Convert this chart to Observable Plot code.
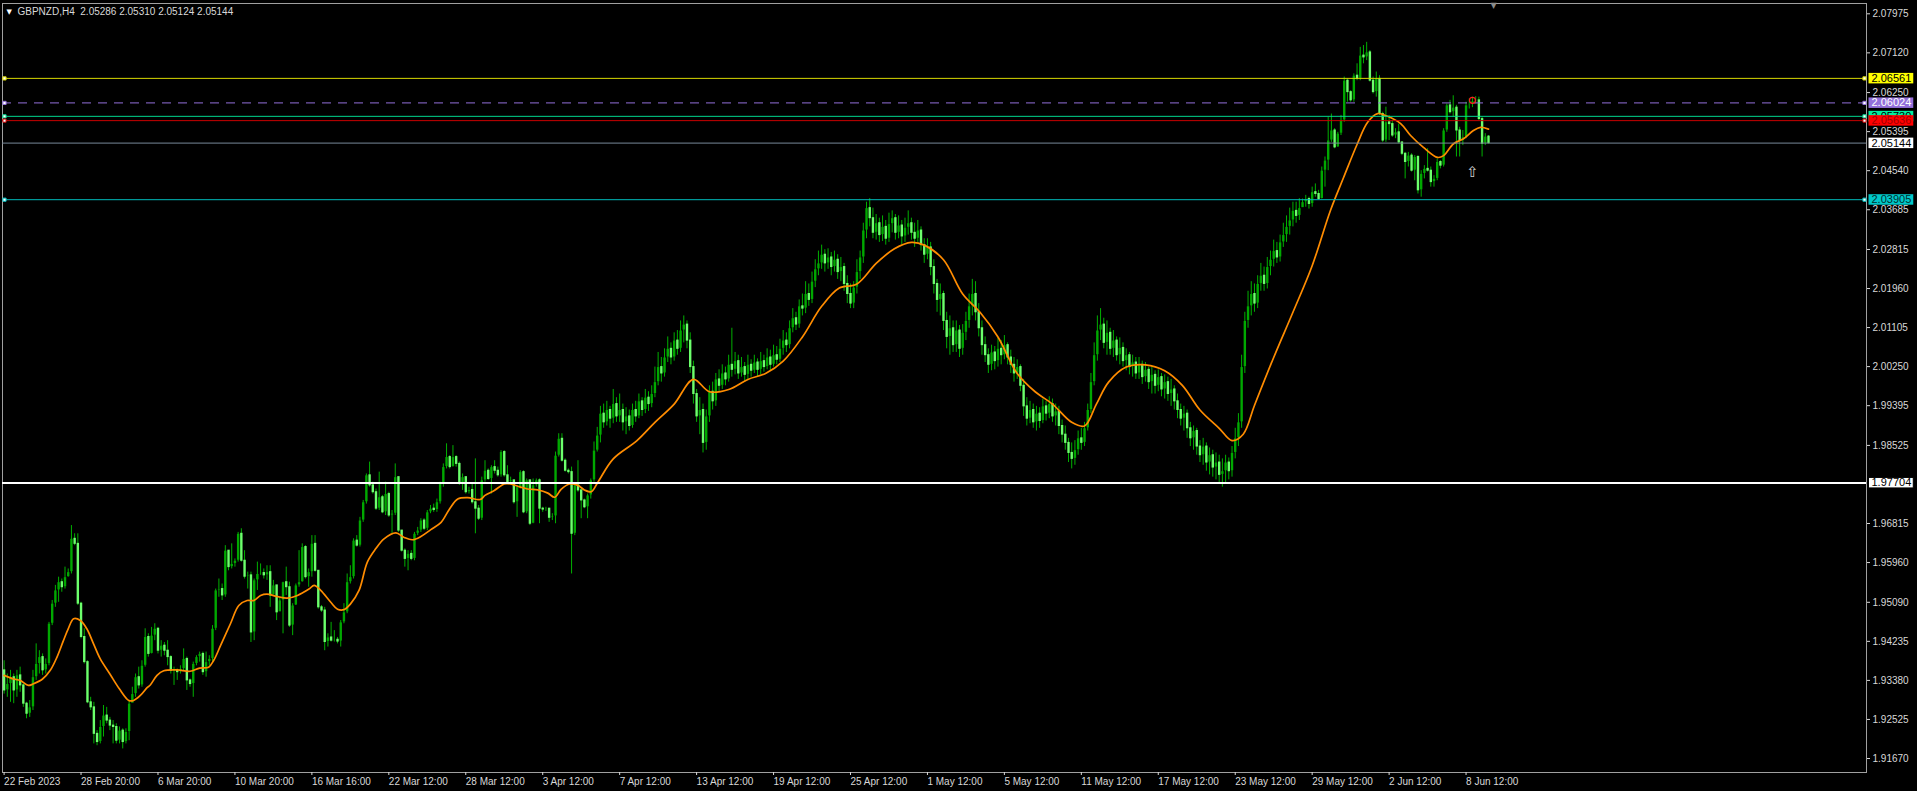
<!DOCTYPE html>
<html><head><meta charset="utf-8">
<script src="https://cdn.jsdelivr.net/npm/d3@7"></script>
<script src="https://cdn.jsdelivr.net/npm/@observablehq/plot@0.6"></script>
<style>html,body{margin:0;padding:0;background:#000;overflow:hidden}</style>
</head><body>
<div id="chart"></div>
<script>
// ---------- data ----------
const symbolLabel = "GBPNZD,H4";
const lastQuote = [2.05286, 2.05310, 2.05124, 2.05144]; // O H L C of last bar
const firstOpen = 1.9360;

const closesA = [1.9316,1.9330,1.9345,1.9316,1.9349,1.9327,1.9287,1.9265,1.9279,1.9345,1.9374,1.9389,1.9360,1.9374,1.9462,1.9506,1.9535,1.9553,1.9542,1.9564,1.9575,1.9648,1.9637,1.9506,1.9433,1.9378,1.9290,1.9279,1.9221,1.9203,1.9236,1.9261,1.9250,1.9239,1.9236,1.9206,1.9228,1.9203,1.9225,1.9287,1.9308,1.9345,1.9327,1.9370,1.9433,1.9396,1.9436,1.9451,1.9403,1.9414,1.9403,1.9389,1.9359,1.9359,1.9356,1.9363,1.9385,1.9338,1.9330,1.9374,1.9389,1.9396,1.9356,1.9378,1.9385,1.9451,1.9535,1.9538,1.9524,1.9622,1.9586,1.9593,1.9600,1.9659,1.9600,1.9565,1.9568,1.9443,1.9557,1.9571,1.9573,1.9568,1.9575,1.9524,1.9546,1.9487,1.9513,1.9553,1.9542,1.9458,1.9502,1.9546,1.9553,1.9630,1.9564,1.9575,1.9637,1.9578,1.9498,1.9491,1.9422,1.9432,1.9425,1.9427,1.9423,1.9465,1.9487,1.9553,1.9564,1.9644,1.9633,1.9688,1.9728,1.9787,1.9765,1.9750,1.9714,1.9739,1.9706,1.9746,1.9699,1.9703,1.9783,1.9666,1.9622,1.9604,1.9615,1.9604,1.9659,1.9666,1.9688,1.9670,1.9706,1.9714,1.9711,1.9728,1.9768,1.9805,1.9827,1.9805,1.9827,1.9812,1.9768,1.9783,1.9750,1.9755,1.9728,1.9714,1.9692,1.9776,1.9797,1.9779,1.9805,1.9797,1.9787,1.9838,1.9787,1.9772,1.9776,1.9728,1.9761,1.9794,1.9706,1.9776,1.9681,1.9765,1.9776,1.9714,1.9712,1.9714,1.9694,1.9697,1.9830,1.9867,1.9819,1.9797,1.9794,1.9659,1.9765,1.9754,1.9732,1.9717,1.9743,1.9776,1.9841,1.9874];
const highsA = [1.9381,1.9352,1.9360,1.9352,1.9360,1.9367,1.9330,1.9290,1.9294,1.9360,1.9418,1.9403,1.9396,1.9385,1.9465,1.9513,1.9546,1.9564,1.9560,1.9586,1.9582,1.9677,1.9659,1.9659,1.9509,1.9451,1.9381,1.9301,1.9290,1.9228,1.9250,1.9283,1.9279,1.9257,1.9250,1.9243,1.9236,1.9232,1.9232,1.9294,1.9323,1.9352,1.9367,1.9381,1.9451,1.9440,1.9454,1.9462,1.9454,1.9425,1.9421,1.9425,1.9392,1.9367,1.9363,1.9370,1.9407,1.9389,1.9341,1.9378,1.9392,1.9400,1.9400,1.9400,1.9392,1.9458,1.9538,1.9560,1.9549,1.9633,1.9622,1.9637,1.9604,1.9662,1.9670,1.9622,1.9575,1.9575,1.9560,1.9597,1.9593,1.9582,1.9589,1.9589,1.9557,1.9546,1.9520,1.9553,1.9586,1.9553,1.9506,1.9549,1.9622,1.9637,1.9633,1.9582,1.9655,1.9655,1.9578,1.9502,1.9498,1.9440,1.9465,1.9447,1.9432,1.9469,1.9506,1.9571,1.9589,1.9648,1.9655,1.9695,1.9732,1.9790,1.9816,1.9772,1.9757,1.9794,1.9743,1.9772,1.9750,1.9710,1.9812,1.9783,1.9666,1.9626,1.9622,1.9622,1.9662,1.9673,1.9692,1.9692,1.9710,1.9721,1.9724,1.9735,1.9772,1.9812,1.9856,1.9830,1.9852,1.9830,1.9816,1.9790,1.9783,1.9761,1.9768,1.9823,1.9721,1.9783,1.9819,1.9801,1.9808,1.9819,1.9805,1.9841,1.9841,1.9808,1.9783,1.9776,1.9765,1.9797,1.9797,1.9779,1.9776,1.9779,1.9779,1.9779,1.9717,1.9717,1.9714,1.9703,1.9838,1.9878,1.9878,1.9823,1.9801,1.9805,1.9768,1.9819,1.9757,1.9735,1.9746,1.9779,1.9860,1.9892];
const lowsA = [1.9308,1.9301,1.9290,1.9287,1.9301,1.9312,1.9279,1.9254,1.9257,1.9272,1.9338,1.9352,1.9349,1.9352,1.9370,1.9458,1.9498,1.9509,1.9531,1.9538,1.9564,1.9571,1.9633,1.9502,1.9429,1.9374,1.9287,1.9272,1.9199,1.9195,1.9199,1.9214,1.9243,1.9228,1.9199,1.9199,1.9199,1.9188,1.9199,1.9206,1.9290,1.9301,1.9319,1.9323,1.9367,1.9389,1.9396,1.9425,1.9396,1.9389,1.9392,1.9370,1.9352,1.9327,1.9338,1.9352,1.9359,1.9316,1.9323,1.9301,1.9370,1.9378,1.9349,1.9345,1.9370,1.9378,1.9447,1.9520,1.9513,1.9520,1.9578,1.9582,1.9586,1.9597,1.9597,1.9560,1.9538,1.9421,1.9425,1.9535,1.9568,1.9560,1.9557,1.9498,1.9531,1.9469,1.9491,1.9440,1.9524,1.9454,1.9436,1.9502,1.9542,1.9553,1.9560,1.9542,1.9564,1.9575,1.9494,1.9487,1.9403,1.9411,1.9422,1.9422,1.9418,1.9411,1.9462,1.9484,1.9549,1.9560,1.9630,1.9630,1.9684,1.9724,1.9761,1.9746,1.9710,1.9710,1.9703,1.9699,1.9695,1.9659,1.9699,1.9662,1.9619,1.9586,1.9578,1.9600,1.9600,1.9655,1.9662,1.9666,1.9666,1.9703,1.9706,1.9706,1.9724,1.9761,1.9801,1.9801,1.9805,1.9805,1.9765,1.9754,1.9746,1.9746,1.9724,1.9659,1.9688,1.9688,1.9772,1.9776,1.9746,1.9790,1.9783,1.9783,1.9783,1.9768,1.9765,1.9724,1.9695,1.9757,1.9703,1.9703,1.9677,1.9681,1.9761,1.9681,1.9706,1.9708,1.9684,1.9688,1.9681,1.9827,1.9816,1.9794,1.9790,1.9571,1.9655,1.9750,1.9692,1.9714,1.9692,1.9735,1.9772,1.9838];

const closesB = [1.9922,1.9903,1.9930,1.9911,1.9943,1.9916,1.9930,1.9903,1.9916,1.9895,1.9930,1.9916,1.9949,1.9930,1.9957,1.9943,1.9965,1.9991,2.0024,2.0010,2.0045,2.0064,2.0045,2.0082,2.0064,2.0104,2.0117,2.0082,2.0024,1.9965,1.9916,1.9930,1.9858,1.9916,1.9970,1.9949,1.9997,1.9983,2.0010,1.9997,2.0029,2.0018,2.0037,2.0010,2.0024,2.0007,2.0029,2.0016,2.0034,2.0018,2.0037,2.0024,2.0045,2.0029,2.0050,2.0040,2.0064,2.0082,2.0072,2.0109,2.0131,2.0117,2.0157,2.0152,2.0184,2.0171,2.0211,2.0238,2.0251,2.0270,2.0251,2.0264,2.0243,2.0259,2.0232,2.0243,2.0206,2.0184,2.0163,2.0198,2.0232,2.0264,2.0323,2.0372,2.0350,2.0318,2.0339,2.0313,2.0331,2.0305,2.0337,2.0350,2.0318,2.0334,2.0310,2.0329,2.0339,2.0318,2.0305,2.0323,2.0291,2.0270,2.0286,2.0243,2.0206,2.0171,2.0184,2.0125,2.0090,2.0109,2.0072,2.0104,2.0064,2.0099,2.0125,2.0157,2.0184,2.0144,2.0109,2.0072,2.0050,2.0029,2.0056,2.0037,2.0064,2.0050,2.0072,2.0045,2.0029,2.0010,2.0024,1.9983,1.9938,1.9911,1.9930,1.9903,1.9922,1.9906,1.9938,1.9922,1.9943,1.9916,1.9927,1.9895,1.9876,1.9858,1.9836,1.9823,1.9842,1.9868,1.9858,1.9890,1.9930,1.9991,2.0050,2.0104,2.0117,2.0077,2.0099,2.0064,2.0082,2.0050,2.0066,2.0037,2.0050,2.0024,2.0034,2.0010,2.0029,2.0002,2.0018,1.9991,2.0007,1.9983,2.0002,1.9975,1.9991,1.9965,1.9975,1.9949,1.9930,1.9911,1.9922,1.9890,1.9868,1.9884,1.9850,1.9831,1.9850,1.9815,1.9831,1.9804,1.9815,1.9788,1.9796,1.9815,1.9796,1.9836,1.9868,1.9903,2.0024,2.0125,2.0157,2.0184,2.0163,2.0206,2.0224,2.0206,2.0243,2.0259,2.0278,2.0264,2.0297,2.0313,2.0331,2.0345,2.0366,2.0355,2.0372];
const highsB = [1.9938,1.9943,1.9949,1.9938,1.9975,1.9957,1.9965,1.9943,1.9935,1.9930,1.9943,1.9949,1.9965,1.9957,1.9975,1.9970,1.9983,2.0024,2.0056,2.0045,2.0064,2.0090,2.0077,2.0099,2.0104,2.0125,2.0136,2.0125,2.0099,2.0037,1.9975,1.9957,1.9943,1.9930,1.9983,1.9991,2.0010,2.0018,2.0029,2.0024,2.0050,2.0109,2.0056,2.0050,2.0045,2.0034,2.0050,2.0040,2.0050,2.0042,2.0056,2.0050,2.0064,2.0061,2.0072,2.0069,2.0085,2.0104,2.0099,2.0125,2.0152,2.0144,2.0171,2.0184,2.0211,2.0206,2.0232,2.0259,2.0278,2.0291,2.0281,2.0283,2.0275,2.0278,2.0270,2.0264,2.0251,2.0224,2.0206,2.0211,2.0259,2.0278,2.0339,2.0385,2.0393,2.0372,2.0358,2.0350,2.0355,2.0345,2.0361,2.0366,2.0358,2.0355,2.0345,2.0350,2.0366,2.0350,2.0339,2.0345,2.0331,2.0305,2.0305,2.0297,2.0259,2.0216,2.0206,2.0190,2.0144,2.0136,2.0125,2.0125,2.0115,2.0117,2.0144,2.0184,2.0216,2.0211,2.0163,2.0125,2.0090,2.0064,2.0072,2.0069,2.0088,2.0082,2.0093,2.0077,2.0061,2.0045,2.0040,2.0029,1.9997,1.9957,1.9949,1.9943,1.9938,1.9935,1.9954,1.9949,1.9959,1.9954,1.9943,1.9938,1.9908,1.9895,1.9868,1.9858,1.9863,1.9884,1.9890,1.9903,1.9943,2.0010,2.0077,2.0136,2.0152,2.0131,2.0125,2.0109,2.0104,2.0090,2.0088,2.0077,2.0064,2.0056,2.0050,2.0045,2.0045,2.0037,2.0034,2.0024,2.0024,2.0016,2.0018,2.0010,2.0007,2.0002,1.9997,1.9983,1.9965,1.9943,1.9938,1.9930,1.9903,1.9895,1.9890,1.9863,1.9868,1.9858,1.9847,1.9842,1.9836,1.9831,1.9823,1.9831,1.9825,1.9850,1.9890,1.9922,2.0050,2.0144,2.0190,2.0211,2.0206,2.0224,2.0251,2.0243,2.0264,2.0278,2.0302,2.0297,2.0313,2.0339,2.0355,2.0372,2.0385,2.0385,2.0393];
const lowsB = [1.9858,1.9890,1.9895,1.9890,1.9900,1.9903,1.9903,1.9884,1.9876,1.9884,1.9890,1.9903,1.9911,1.9916,1.9922,1.9927,1.9935,1.9957,1.9983,1.9991,2.0002,2.0034,2.0029,2.0037,2.0050,2.0056,2.0077,2.0064,2.0010,1.9943,1.9903,1.9876,1.9836,1.9842,1.9903,1.9930,1.9938,1.9970,1.9975,1.9983,1.9991,2.0002,2.0007,1.9997,2.0002,1.9991,1.9997,2.0002,2.0010,2.0002,2.0007,2.0013,2.0018,2.0016,2.0024,2.0029,2.0034,2.0050,2.0056,2.0064,2.0099,2.0104,2.0109,2.0136,2.0141,2.0157,2.0163,2.0198,2.0224,2.0238,2.0232,2.0238,2.0224,2.0232,2.0216,2.0211,2.0190,2.0163,2.0152,2.0152,2.0184,2.0216,2.0251,2.0305,2.0331,2.0305,2.0302,2.0297,2.0299,2.0291,2.0297,2.0318,2.0302,2.0305,2.0291,2.0297,2.0313,2.0302,2.0286,2.0297,2.0278,2.0251,2.0259,2.0224,2.0184,2.0144,2.0136,2.0104,2.0064,2.0050,2.0056,2.0056,2.0045,2.0050,2.0082,2.0109,2.0136,2.0125,2.0090,2.0050,2.0034,2.0010,2.0016,2.0018,2.0024,2.0029,2.0040,2.0029,2.0010,1.9991,1.9997,1.9970,1.9916,1.9895,1.9900,1.9890,1.9884,1.9890,1.9900,1.9906,1.9911,1.9903,1.9895,1.9876,1.9858,1.9842,1.9815,1.9801,1.9809,1.9831,1.9842,1.9850,1.9884,1.9922,1.9983,2.0037,2.0082,2.0064,2.0050,2.0050,2.0045,2.0037,2.0029,2.0024,2.0016,2.0007,2.0002,1.9997,1.9997,1.9986,1.9991,1.9975,1.9965,1.9965,1.9970,1.9959,1.9954,1.9949,1.9938,1.9930,1.9911,1.9895,1.9884,1.9868,1.9850,1.9842,1.9831,1.9815,1.9809,1.9796,1.9788,1.9783,1.9777,1.9769,1.9761,1.9769,1.9777,1.9783,1.9823,1.9850,1.9890,2.0010,2.0109,2.0136,2.0144,2.0152,2.0190,2.0190,2.0195,2.0224,2.0243,2.0251,2.0254,2.0286,2.0297,2.0313,2.0331,2.0339,2.0345];

const closesC = [2.0385,2.0392,2.0381,2.0407,2.0403,2.0392,2.0454,2.0476,2.0520,2.0542,2.0505,2.0535,2.0564,2.0651,2.0626,2.0608,2.0662,2.0655,2.0706,2.0702,2.0713,2.0651,2.0626,2.0655,2.0578,2.0520,2.0560,2.0556,2.0531,2.0538,2.0516,2.0491,2.0473,2.0487,2.0454,2.0484,2.0411,2.0447,2.0458,2.0454,2.0429,2.0436,2.0473,2.0465,2.0542,2.0597,2.0582,2.0592,2.0542,2.0520,2.0527,2.0597,2.0599,2.0606,2.0608,2.0567,2.0513,2.05286,2.05144];
const highsC = [2.0392,2.0400,2.0396,2.0418,2.0425,2.0411,2.0462,2.0484,2.0571,2.0578,2.0546,2.0538,2.0575,2.0659,2.0655,2.0629,2.0666,2.0688,2.0724,2.0728,2.0735,2.0717,2.0659,2.0670,2.0662,2.0582,2.0593,2.0575,2.0564,2.0546,2.0556,2.0516,2.0494,2.0494,2.0491,2.0487,2.0487,2.0454,2.0465,2.0502,2.0462,2.0443,2.0480,2.0476,2.0546,2.0600,2.0608,2.0618,2.0597,2.0549,2.0542,2.0604,2.0611,2.0615,2.0616,2.0615,2.0571,2.0535,2.05310];
const lowsC = [2.0374,2.0374,2.0370,2.0374,2.0396,2.0389,2.0392,2.0418,2.0454,2.0516,2.0502,2.0505,2.0531,2.0560,2.0604,2.0604,2.0604,2.0651,2.0651,2.0688,2.0695,2.0648,2.0622,2.0615,2.0575,2.0516,2.0516,2.0520,2.0527,2.0524,2.0513,2.0487,2.0436,2.0462,2.0451,2.0432,2.0403,2.0396,2.0436,2.0451,2.0418,2.0418,2.0432,2.0458,2.0462,2.0538,2.0578,2.0571,2.0484,2.0484,2.0509,2.0524,2.0589,2.0592,2.0600,2.0564,2.0484,2.0509,2.05124];

// moving average (bar index, price)
const maIndex = [0,3,5,7.6,9,12,14.4,16.5,18.5,20,21.7,23.8,25.8,27.9,30,33,36,38.9,40.4,42.5,44.6,45.6,47.7,49.8,54,58,61,63.8,65.4,67.5,70.6,73.2,75.8,77.9,80,82,85,88.3,91.5,95.1,96.7,98.75,101.9,104,106,108,110.7,113.3,115.9,118.5,122.2,124.8,127.4,130,133.1,136.3,139,141.5,144.6,148.5,150,152.9,156,158,160.2,163.3,166.4,169.6,171.7,173.8,176.4,179,181,183.1,185.2,190,197.4,203,209,215,220,226,232,237.5,243,249,255,260.5,266,272,277.7,283,287,293,299,304.4,310,316,321.6,327,333,337,340.7,344.5,350,356,362,367.5,373,379,383,386.5,390,396,402,408,413.7,417.8,422.1,425.3,428.4,431.5,435.6,438.7,442.7,447.1,449,452.1,455.2,458.3,460.5,463];
const maValue = [1.9349,1.9341,1.9338,1.9327,1.9330,1.9341,1.9360,1.9389,1.9425,1.9451,1.9473,1.9469,1.9451,1.9418,1.9385,1.9352,1.9319,1.9294,1.9294,1.9305,1.9322,1.9328,1.9349,1.9359,1.9361,1.9358,1.9365,1.9367,1.9382,1.9414,1.9462,1.9502,1.9513,1.9513,1.9524,1.9527,1.9522,1.9518,1.9524,1.9538,1.9546,1.9535,1.9509,1.9494,1.9493,1.9505,1.9535,1.9597,1.9626,1.9648,1.9661,1.9651,1.9646,1.9653,1.9668,1.9684,1.9714,1.9735,1.9738,1.9734,1.9743,1.9754,1.9768,1.9768,1.9763,1.9757,1.9755,1.9748,1.9739,1.9757,1.9768,1.9765,1.9755,1.9751,1.9772,1.9823,1.9863,1.9903,1.9943,1.9997,1.9970,1.9975,1.9997,2.0010,2.0037,2.0090,2.0157,2.0197,2.0206,2.0251,2.0283,2.0297,2.0291,2.0259,2.0184,2.0144,2.0090,2.0010,1.9970,1.9943,1.9903,1.9895,1.9943,1.9991,2.0024,2.0029,2.0016,1.9984,1.9930,1.9890,1.9863,1.9877,1.9940,2.0045,2.0144,2.0246,2.0367,2.0439,2.0513,2.0560,2.0579,2.0573,2.0557,2.0531,2.0505,2.0483,2.0487,2.0513,2.0524,2.0542,2.0549,2.0545];

// horizontal line objects
const levelNames  = ["yellow", "purple", "green", "red", "bid", "cyan", "white"];
const levelValues = [2.06561, 2.06024, 2.05730, 2.05636, 2.05144, 2.03905, 1.97704];

// annotations (bar index, price)
const arrowAt  = [{i: 458, price: 2.0450}];
const circleAt = [{i: 458, price: 2.0608}];

// axis tick values / labels
const yTickValues = [2.07975,2.07120,2.06250,2.05395,2.04540,2.03685,2.02815,2.01960,2.01105,2.00250,1.99395,1.98525,1.96815,1.95960,1.95090,1.94235,1.93380,1.92525,1.91670];
const xTickIndex  = [0,24,48,72,96,120,144,168,192,216,240,264,288,312,336,360,384,408,432,456];
const xTickLabels = ["22 Feb 2023","28 Feb 20:00","6 Mar 20:00","10 Mar 20:00","16 Mar 16:00","22 Mar 12:00","28 Mar 12:00","3 Apr 12:00","7 Apr 12:00","13 Apr 12:00","19 Apr 12:00","25 Apr 12:00","1 May 12:00","5 May 12:00","11 May 12:00","17 May 12:00","23 May 12:00","29 May 12:00","2 Jun 12:00","8 Jun 12:00"];

// ---------- build ----------
const closes = [...closesA, ...closesB, ...closesC];
const highs  = [...highsA, ...highsB, ...highsC];
const lows   = [...lowsA, ...lowsB, ...lowsC];
const bars = closes.map((c, i) => ({
  i, close: c, high: highs[i], low: lows[i],
  open: i === 0 ? firstOpen : (i === closes.length - 1 ? lastQuote[0] : closes[i-1])
}));
const upBars = bars.filter(d => d.close >= d.open);
const downBars = bars.filter(d => d.close < d.open);
const lastIndex = bars.length - 1;
const ma = maIndex.map((x, k) => ({x, y: maValue[k]}));
const levels = levelNames.map((name, k) => ({name, value: levelValues[k]}));

const levelStyle = {
  yellow: {line: "#d8d800", box: "#ffff00", text: "#000000", width: 1, ends: true},
  purple: {line: "#9370db", box: "#9370db", text: "#ffffff", width: 1, dash: "9,7", ends: true},
  green:  {line: "#00d68f", box: "#00f0a0", text: "#000000", width: 1, ends: true},
  red:    {line: "#c80000", box: "#ff0000", text: "#a00000", width: 1, ends: true},
  bid:    {line: "#778899", box: "#ffffff", text: "#000000", width: 1, ends: false},
  cyan:   {line: "#00bcbc", box: "#00c8c8", text: "#003030", width: 1, ends: true},
  white:  {line: "#ffffff", box: "#ffffff", text: "#000000", width: 2, border: "#000000", ends: false}
};
const fmt5 = d3.format(".5f");
const fg = "#d8d8d8";
const font = "Liberation Sans, Arial, sans-serif";
const endLevels = levels.filter(l => levelStyle[l.name].ends);

const marks = [
  Plot.frame({stroke: "#a0a0a0"}),
  Plot.ruleX(bars, {x: "i", y1: "low", y2: "high", stroke: "#00b000", strokeWidth: 1}),
  Plot.ruleX(upBars, {x: "i", y1: "open", y2: "close", stroke: "#00a800", strokeWidth: 2.4, insetTop: -0.5, insetBottom: -0.5}),
  Plot.ruleX(downBars, {x: "i", y1: "open", y2: "close", stroke: "#6cff6c", strokeWidth: 2.4, insetTop: -0.5, insetBottom: -0.5}),
  Plot.line(ma, {x: "x", y: "y", stroke: "#ff8c00", strokeWidth: 1.7, curve: "catmull-rom"}),
  ...levels.map(l => Plot.ruleY([l], {y: "value", stroke: levelStyle[l.name].line, strokeWidth: levelStyle[l.name].width, strokeDasharray: levelStyle[l.name].dash})),
  ...endLevels.map(l => Plot.dot([l], {y: "value", frameAnchor: "left", dx: 2, symbol: "square", r: 1.8, fill: "#ffffff", stroke: levelStyle[l.name].line, strokeWidth: 1})),
  ...endLevels.map(l => Plot.dot([l], {y: "value", frameAnchor: "right", dx: -2, symbol: "square", r: 1.8, fill: "#ffffff", stroke: levelStyle[l.name].line, strokeWidth: 1})),
  Plot.text(arrowAt, {x: "i", y: "price", text: () => "\u21e7", fill: "#d0d0d0", fontSize: 15, fontFamily: "DejaVu Sans"}),
  Plot.dot(circleAt, {x: "i", y: "price", r: 3, stroke: "#ff2020", strokeWidth: 1.2, fill: "none"}),
  Plot.axisY({ticks: yTickValues, anchor: "right", tickSize: 3, tickPadding: 3, tickFormat: fmt5, color: fg, fontSize: 10, fontFamily: font}),
  Plot.axisX({ticks: xTickIndex, anchor: "bottom", tickSize: 3, tickPadding: 2, textAnchor: "start", tickFormat: d => xTickLabels[xTickIndex.indexOf(d)], color: fg, fontSize: 10, fontFamily: font}),
  Plot.text(levels, {y: "value", frameAnchor: "right", dx: 5, textAnchor: "start", text: d => fmt5(d.value), fill: d => levelStyle[d.name].text, fontSize: 11, fontFamily: font}),
  Plot.text([`${symbolLabel}\u00a0\u00a0${lastQuote.map(v => v.toFixed(5)).join(" ")}`], {frameAnchor: "top-left", dx: 15, dy: 4, textAnchor: "start", lineAnchor: "top", fill: fg, fontSize: 10, fontFamily: font}),
  Plot.text(["\u25bc"], {frameAnchor: "top-left", dx: 4, dy: 6, textAnchor: "start", lineAnchor: "top", fill: "#ffffff", fontSize: 7, fontFamily: "DejaVu Sans"}),
  Plot.text(["\u25bc"], {frameAnchor: "top-right", dx: -373, dy: -1, textAnchor: "middle", lineAnchor: "top", fill: "#8a8a8a", fontSize: 8, fontFamily: "DejaVu Sans"})
];

const svg = Plot.plot({
  width: 1917, height: 791,
  marginLeft: 2, marginRight: 51, marginTop: 3, marginBottom: 19,
  style: {background: "#000000", color: fg, fontFamily: font, fontSize: "10px"},
  x: {type: "linear", domain: [0, lastIndex], range: [3.6, 1488], axis: null},
  y: {type: "linear", domain: [1.91670, 2.07975], range: [758, 13.3], axis: null},
  color: {type: "identity"},
  marks
});
document.getElementById("chart").append(svg);

// price-label boxes behind the level texts (matched by their text)
const byLabel = new Map(levels.map(l => [fmt5(l.value), l]));
svg.querySelectorAll("text").forEach(t => {
  const lv = byLabel.get(t.textContent);
  if (!lv) return;
  const st = levelStyle[lv.name];
  const bb = t.getBBox();
  const r = document.createElementNS("http://www.w3.org/2000/svg", "rect");
  r.setAttribute("x", bb.x - 3);
  r.setAttribute("y", bb.y + 1);
  r.setAttribute("width", bb.width + 5);
  r.setAttribute("height", bb.height - 1.5);
  r.setAttribute("fill", st.box);
  if (st.border) { r.setAttribute("stroke", st.border); r.setAttribute("stroke-width", 1); }
  const tr = t.getAttribute("transform");
  if (tr) r.setAttribute("transform", tr);
  t.parentNode.insertBefore(r, t);
});
</script>
</body></html>
